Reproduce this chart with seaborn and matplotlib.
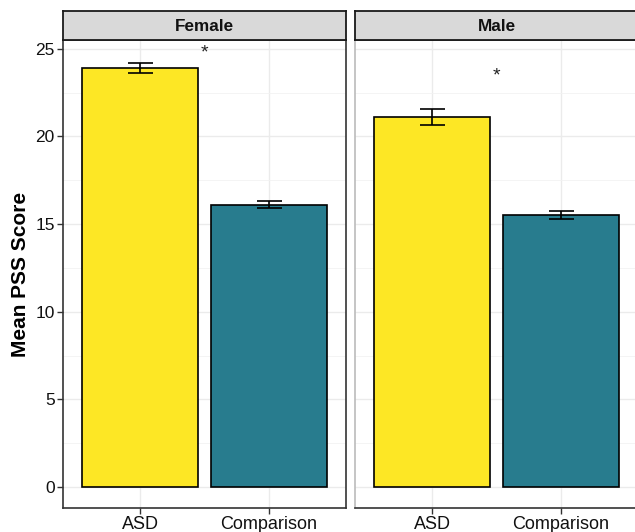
import matplotlib
matplotlib.use("Agg")
import matplotlib.pyplot as plt
import seaborn as sns
import pandas as pd

# Mean PSS scores by sex and group
sexes = ["Female", "Male"]
groups = ["ASD", "Comparison"]
female_means = [23.9, 16.1]
female_se = [0.3, 0.2]
male_means = [21.1, 15.5]
male_se = [0.45, 0.22]
star_y = [24.75, 23.45]

colors = {"ASD": "#FDE725", "Comparison": "#287C8E"}

sns.set_theme(style="white")
plt.rcParams["font.family"] = ["Liberation Sans", "DejaVu Sans"]

df = pd.DataFrame({
    "sex": [s for s in sexes for _ in groups],
    "group": groups * 2,
    "mean": female_means + male_means,
    "se": female_se + male_se,
})

W, H = 635, 532
fig = plt.figure(figsize=(W / 100, H / 100), dpi=100)

panel_px = [(63, 346), (355, 638)]
top_px, bot_px, strip_top = 40, 508, 11

for i, sex in enumerate(sexes):
    x0, x1 = panel_px[i]
    ax = fig.add_axes([x0 / W, (H - bot_px) / H, (x1 - x0) / W, (bot_px - top_px) / H])
    sub = df[df["sex"] == sex]
    sns.barplot(data=sub, x="group", y="mean", hue="group", order=groups,
                palette=colors, saturation=1, width=0.9, edgecolor="black",
                linewidth=1.2, errorbar=None, legend=False, ax=ax, zorder=3)
    ax.errorbar(x=list(range(len(groups))), y=sub["mean"].values, yerr=sub["se"].values,
                fmt="none", ecolor="black", elinewidth=1.2, capsize=9, capthick=1.2, zorder=4)
    ax.text(0.5, star_y[i], "*", ha="center", va="center", fontsize=14, color="#222222")
    ax.set_xlim(-0.6, 1.6)
    ax.set_ylim(-1.2, 25.5)
    ax.set_yticks([0, 5, 10, 15, 20, 25])
    ax.set_yticks([2.5, 7.5, 12.5, 17.5, 22.5], minor=True)
    ax.grid(True, which="major", color="#EBEBEB", linewidth=1.0, zorder=0)
    ax.grid(True, which="minor", axis="y", color="#F2F2F2", linewidth=0.6, zorder=0)
    ax.set_axisbelow(True)
    ax.set_xlabel("")
    ax.set_ylabel("")
    ax.tick_params(axis="x", length=4, width=1, color="#333333", labelsize=13,
                   labelcolor="#111111", bottom=True, pad=2)
    if i == 0:
        ax.tick_params(axis="y", length=4, width=1, color="#333333", labelsize=12.5,
                       labelcolor="#111111", left=True, pad=2)
        for s in ax.spines.values():
            s.set_color("#333333")
            s.set_linewidth(1.2)
        ax.set_ylabel("Mean PSS Score", fontsize=15, fontweight="bold",
                      color="black", labelpad=4)
    else:
        ax.tick_params(axis="y", left=False, labelleft=False)
        ax.spines["left"].set_color("#BBBBBB")
        ax.spines["left"].set_linewidth(1.2)
        ax.spines["bottom"].set_color("#333333")
        ax.spines["bottom"].set_linewidth(1.2)
        ax.spines["right"].set_color("#333333")
        ax.spines["top"].set_color("#333333")

    # facet strip
    sax = fig.add_axes([x0 / W, (H - top_px) / H, (x1 - x0) / W, (top_px - strip_top) / H])
    sax.set_xlim(0, 1)
    sax.set_ylim(0, 1)
    sax.set_facecolor("#D9D9D9")
    sax.set_xticks([])
    sax.set_yticks([])
    for s in sax.spines.values():
        s.set_color("#1a1a1a")
        s.set_linewidth(1.3)
    sax.text(0.5, 0.48, sex, ha="center", va="center", fontsize=12.3,
             fontweight="bold", color="#111111")

fig.savefig("out.png", dpi=100)
